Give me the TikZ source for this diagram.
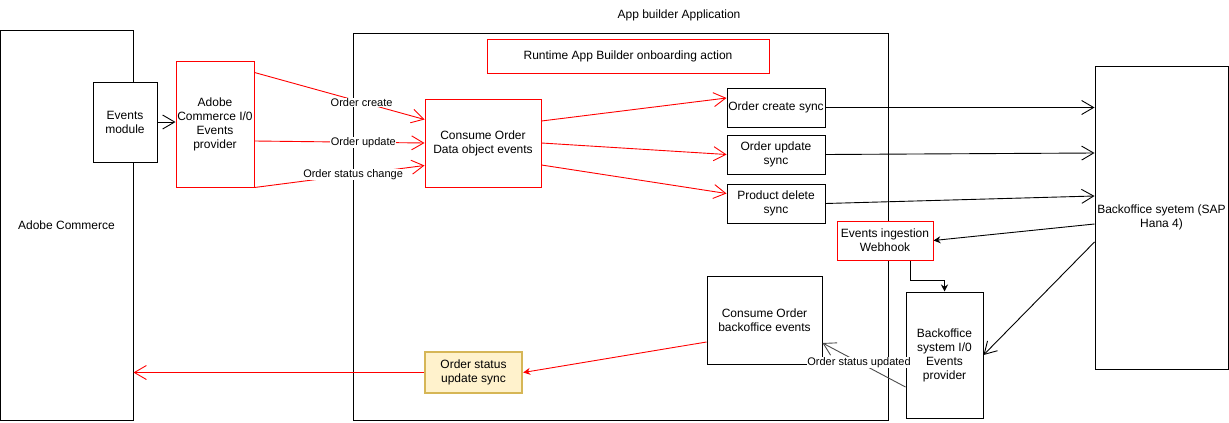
\documentclass[tikz,border=0pt]{standalone}
\usepackage{tikz}
\usepackage{xcolor}
\usepackage{fontspec}
\setmainfont{Liberation Sans}
\usetikzlibrary{calc,
	positioning,
	shapes,
	arrows.meta}
\definecolor{dred}{HTML}{FF0000}
\definecolor{yfill}{HTML}{FFF2CC}
\definecolor{ydraw}{HTML}{D6B656}
\tikzstyle{bx}=[draw, line width=1pt, align=center, inner sep=1pt,
		font=\fontsize{12}{14}\selectfont]
\tikzstyle{rbx}=[bx, draw=dred]
\tikzstyle{ybx}=[bx, draw=ydraw, fill=yfill, line width=2.4pt]
\tikzstyle{lbl}=[fill=white, inner sep=0.5pt, font=\fontsize{11}{13}\selectfont]
\tikzstyle{opn}=[line width=0.9pt, -{Straight Barb[length=12pt, width=14pt]}]
\tikzstyle{fil}=[line width=0.9pt, -{Stealth[length=7pt, width=7pt]}]

\begin{document}
\begin{tikzpicture}[x=1pt, y=-1pt]
        \useasboundingbox (0,0) rectangle (1229,423);
        \node[bx, minimum width=133pt, minimum height=390pt] (ac) at (66.5,225) {Adobe Commerce};
        \node[bx, minimum width=535pt, minimum height=387pt] (app) at (620.5,226.5) {};
        \node[font=\fontsize{12}{14}\selectfont] (apptitle) at (679,15) {App builder Application};
        \node[bx, fill=white, minimum width=64pt, minimum height=80pt] (em) at (125,122) {Events\\module};
        \node[rbx, minimum width=78pt, minimum height=126pt] (acp) at (215,124) {Adobe\\Commerce I/0\\Events\\provider};
        \node[rbx, minimum width=282pt, minimum height=34pt] (rt) at (628,56) {Runtime App Builder onboarding action};
        \node[rbx, minimum width=116pt, minimum height=88pt] (cod) at (483,143) {Consume Order\\Data object events};
        \node[bx, minimum width=98pt, minimum height=39pt] (ocs) at (776,107.5) {Order create sync};
        \node[bx, minimum width=98pt, minimum height=39pt] (ous) at (776,154.5) {Order update\\sync};
        \node[bx, minimum width=98pt, minimum height=39pt] (pds) at (776,203.5) {Product delete\\sync};
        \node[rbx, fill=white, minimum width=96pt, minimum height=39pt] (wh) at (885,240.5) {Events ingestion\\Webhook};
        \node[bx, minimum width=115pt, minimum height=88pt] (cob) at (764.5,320) {Consume Order\\backoffice events};
        \node[bx, fill=white, minimum width=77pt, minimum height=126pt] (bop) at (944.5,355) {Backoffice\\system I/0\\Events\\provider};
        \node[bx, minimum width=133pt, minimum height=303pt] (sap) at (1161.5,217.5) {Backoffice syetem (SAP\\Hana 4)};
        \node[ybx, minimum width=97pt, minimum height=41pt] (osu) at (473.5,372.5) {Order status\\update sync};

        \draw[opn] (em.east) -- (em.east -| acp.west);
        \draw[opn, dred] ([yshift=-12pt]acp.north east) -- node[lbl, pos=0.63, text=black] {Order create} ([yshift=-21pt]cod.north west);
        \draw[opn, dred] ([yshift=-17pt]acp.east) -- node[lbl, pos=0.64, text=black] {Order update} (cod.west);
        \draw[opn, dred] (acp.south east) -- node[lbl, pos=0.58, text=black] {Order status change} ([yshift=22pt]cod.south west);
        \draw[opn, dred] ([yshift=22pt]cod.east) -- ([yshift=9.5pt]ocs.west);
        \draw[opn, dred] (cod.east) -- (ous.west);
        \draw[opn, dred] ([yshift=-22pt]cod.east) -- ([yshift=10pt]pds.west);
        \draw[opn] (ocs.east) -- (ocs.east -| sap.west);
        \draw[opn] (ous.east) -- ([yshift=64.5pt]sap.west);
        \draw[opn] (pds.east) -- ([yshift=21.5pt]sap.west);
        \draw[fil] ([yshift=-6.5pt]sap.west) -- (wh.east);
        \draw[opn] ([yshift=-24.5pt]sap.west) -- (bop.east);
        \draw[fil] ([xshift=25pt]wh.south) -- ++(0,20) -| (bop.north);
        \draw[opn, black!70] ([yshift=-32pt]bop.west) -- node[lbl, pos=0.56, text=black] {Order status updated} ([yshift=-23pt]cob.east);
        \draw[fil, dred] ([yshift=-22pt]cob.west) -- (osu.east);
        \draw[opn, dred] (osu.west) -- (osu.west -| ac.east);
\end{tikzpicture}
\end{document}
